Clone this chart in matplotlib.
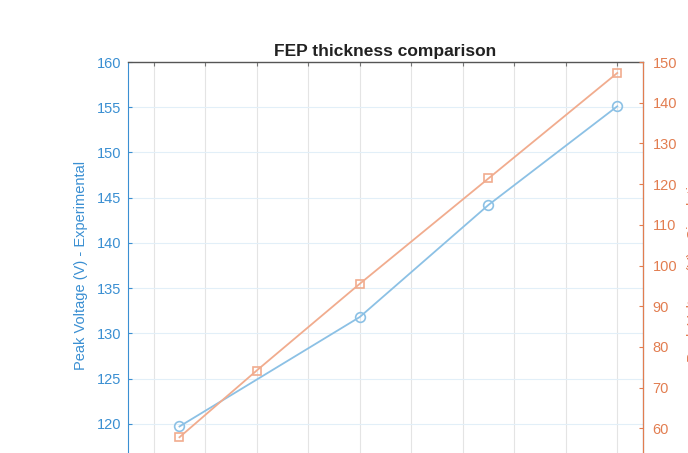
import matplotlib.pyplot as plt

plt.rcParams['font.family'] = ['Liberation Sans', 'DejaVu Sans']

# data
x_exp = [0.5, 4, 6.5, 9]
v_exp = [119.7, 131.8, 144.2, 155.1]
x_sim = [0.5, 2, 4, 6.5, 9]
v_sim = [57.8, 74.2, 95.5, 121.4, 147.3]
left_ticks = [120, 125, 130, 135, 140, 145, 150, 155, 160]
right_ticks = [60, 70, 80, 90, 100, 110, 120, 130, 140, 150]

blue_txt = '#3a8fd2'
orange_txt = '#e27d50'
blue_line = '#8cc1e5'
orange_line = '#f1ac8e'

fig = plt.figure(figsize=(6.88, 4.53), dpi=100)
ax = fig.add_axes([0.186, -0.0353, 0.7486, 0.8984])

ax.set_xlim(-0.5, 9.5)
ax.set_xticks(range(10))
ax.set_xticklabels([])
ax.set_ylim(115, 160)
ax.set_yticks(left_ticks)
ax.plot(x_exp, v_exp, '-o', color=blue_line, lw=1.3, ms=7, mfc='none', mec=blue_line, mew=1.2)

ax.xaxis.grid(True, color='#e4e4e4', lw=0.8)
ax.yaxis.grid(True, color='#e2eff8', lw=0.8)
ax.set_axisbelow(True)
ax.tick_params(axis='x', direction='in', top=True, length=3, color='#777777')
ax.tick_params(axis='y', direction='in', length=3, colors=blue_txt, labelsize=10.5, pad=5)
ax.spines['left'].set_color(blue_txt)
ax.spines['top'].set_color('#555555')
ax.spines['top'].set_linewidth(1.0)
ax.set_ylabel('Peak Voltage (V) - Experimental', color=blue_txt, fontsize=10.5, labelpad=6)

ax2 = ax.twinx()
ax2.set_ylim(50, 150)
ax2.set_yticks(right_ticks)
ax2.plot(x_sim, v_sim, '-s', color=orange_line, lw=1.3, ms=5.5, mfc='none', mec=orange_line, mew=1.2)
ax2.tick_params(axis='y', direction='in', length=3, colors=orange_txt, labelsize=10.5, pad=7)
ax2.spines['right'].set_color(orange_txt)
ax2.spines['left'].set_visible(False)
ax2.spines['top'].set_visible(False)
ax2.set_ylabel('Peak Voltage (V) - Simulation', color=orange_txt, fontsize=10.5, labelpad=7)

ax.set_title('FEP thickness comparison', fontsize=12.5, fontweight='bold', color='#222222', pad=4)

fig.savefig('out.png', dpi=100)
